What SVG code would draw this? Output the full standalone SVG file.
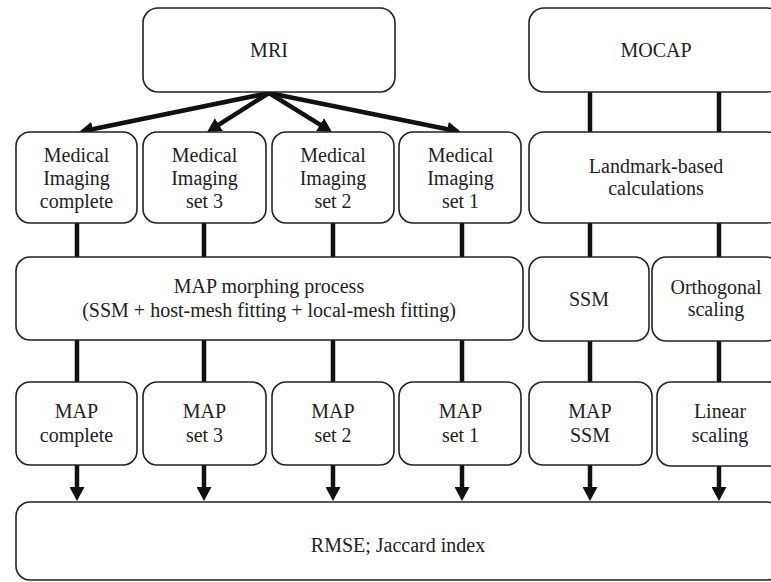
<svg xmlns="http://www.w3.org/2000/svg" width="771" height="582" viewBox="0 0 771 582" font-family="'Liberation Serif', 'Times New Roman', 'DejaVu Serif', serif">
<defs>
<style>
.box{fill:#fff;stroke:#222;stroke-width:1.6}
.t{font-size:20px;fill:#222;text-anchor:middle}
.c{stroke:#111;stroke-width:4.5;fill:none}
.a{stroke:#111;stroke-width:4.5;fill:none;marker-end:url(#ah)}
</style>
<marker id="ah" markerUnits="userSpaceOnUse" markerWidth="15" markerHeight="15" refX="8" refY="7.5" orient="auto">
<path d="M0,0 L14,7.5 L0,15 z" fill="#111"/>
</marker>
</defs>
<rect width="771" height="582" fill="#fff"/>
<g id="connectors">
<line class="a" x1="269" y1="93" x2="84.9" y2="130.8"/>
<line class="a" x1="269" y1="93" x2="212.1" y2="128.8"/>
<line class="a" x1="269" y1="93" x2="326.9" y2="128.8"/>
<line class="a" x1="269" y1="93" x2="455.1" y2="130.8"/>
<line class="c" x1="590" y1="92" x2="590" y2="132"/>
<line class="c" x1="719" y1="92" x2="719" y2="132"/>
<line class="c" x1="77" y1="223" x2="77" y2="257"/>
<line class="c" x1="204" y1="223" x2="204" y2="257"/>
<line class="c" x1="333" y1="223" x2="333" y2="257"/>
<line class="c" x1="462" y1="223" x2="462" y2="257"/>
<line class="c" x1="590" y1="223" x2="590" y2="257"/>
<line class="c" x1="719" y1="223" x2="719" y2="257"/>
<line class="c" x1="77" y1="340" x2="77" y2="382"/>
<line class="c" x1="204" y1="340" x2="204" y2="382"/>
<line class="c" x1="333" y1="340" x2="333" y2="382"/>
<line class="c" x1="462" y1="340" x2="462" y2="382"/>
<line class="c" x1="590" y1="341" x2="590" y2="382"/>
<line class="c" x1="719" y1="341" x2="719" y2="382"/>
<line class="a" x1="77" y1="465" x2="77" y2="495"/>
<line class="a" x1="204" y1="465" x2="204" y2="495"/>
<line class="a" x1="333" y1="465" x2="333" y2="495"/>
<line class="a" x1="462" y1="465" x2="462" y2="495"/>
<line class="a" x1="590" y1="465" x2="590" y2="495"/>
<line class="a" x1="719" y1="465" x2="719" y2="495"/>
</g>
<g id="mri"><rect class="box" x="143" y="8" width="252" height="84" rx="15"/><text class="t" x="269" y="57">MRI</text></g>
<g id="mocap"><rect class="box" x="529" y="8" width="253" height="84" rx="15"/><text class="t" x="656" y="57">MOCAP</text></g>
<g id="mi-complete"><rect class="box" x="16" y="132" width="121" height="91" rx="14"/><text class="t" x="76.5" y="162">Medical</text><text class="t" x="76.5" y="185">Imaging</text><text class="t" x="76.5" y="208">complete</text></g>
<g id="mi-set3"><rect class="box" x="143" y="132" width="123" height="91" rx="14"/><text class="t" x="204.5" y="162">Medical</text><text class="t" x="204.5" y="185">Imaging</text><text class="t" x="204.5" y="208">set 3</text></g>
<g id="mi-set2"><rect class="box" x="272" y="132" width="122" height="91" rx="14"/><text class="t" x="333" y="162">Medical</text><text class="t" x="333" y="185">Imaging</text><text class="t" x="333" y="208">set 2</text></g>
<g id="mi-set1"><rect class="box" x="399" y="132" width="122" height="91" rx="14"/><text class="t" x="460.5" y="162">Medical</text><text class="t" x="460.5" y="185">Imaging</text><text class="t" x="460.5" y="208">set 1</text></g>
<g id="landmark"><rect class="box" x="529" y="132" width="253" height="91" rx="15"/><text class="t" x="656" y="173">Landmark-based</text><text class="t" x="656" y="195">calculations</text></g>
<g id="morphing"><rect class="box" x="16" y="257" width="507" height="83" rx="14"/><text class="t" x="269" y="293">MAP morphing process</text><text class="t" x="269" y="317">(SSM + host-mesh fitting + local-mesh fitting)</text></g>
<g id="ssm"><rect class="box" x="529" y="257" width="120" height="84" rx="14"/><text class="t" x="589" y="306">SSM</text></g>
<g id="orthogonal"><rect class="box" x="652" y="257" width="128" height="84" rx="14"/><text class="t" x="716" y="294">Orthogonal</text><text class="t" x="716" y="316">scaling</text></g>
<g id="map-complete"><rect class="box" x="16" y="382" width="121" height="83" rx="14"/><text class="t" x="76.5" y="418">MAP</text><text class="t" x="76.5" y="442">complete</text></g>
<g id="map-set3"><rect class="box" x="143" y="382" width="123" height="83" rx="14"/><text class="t" x="204.5" y="418">MAP</text><text class="t" x="204.5" y="442">set 3</text></g>
<g id="map-set2"><rect class="box" x="272" y="382" width="122" height="83" rx="14"/><text class="t" x="333" y="418">MAP</text><text class="t" x="333" y="442">set 2</text></g>
<g id="map-set1"><rect class="box" x="399" y="382" width="122" height="83" rx="14"/><text class="t" x="460.5" y="418">MAP</text><text class="t" x="460.5" y="442">set 1</text></g>
<g id="map-ssm"><rect class="box" x="529" y="382" width="123" height="83" rx="14"/><text class="t" x="590" y="418">MAP</text><text class="t" x="590" y="442">SSM</text></g>
<g id="linear"><rect class="box" x="657" y="382" width="126" height="84" rx="14"/><text class="t" x="720" y="418">Linear</text><text class="t" x="720" y="442">scaling</text></g>
<g id="rmse"><rect class="box" x="16" y="502" width="765" height="78" rx="14"/><text class="t" x="398" y="552">RMSE; Jaccard index</text></g>
</svg>
